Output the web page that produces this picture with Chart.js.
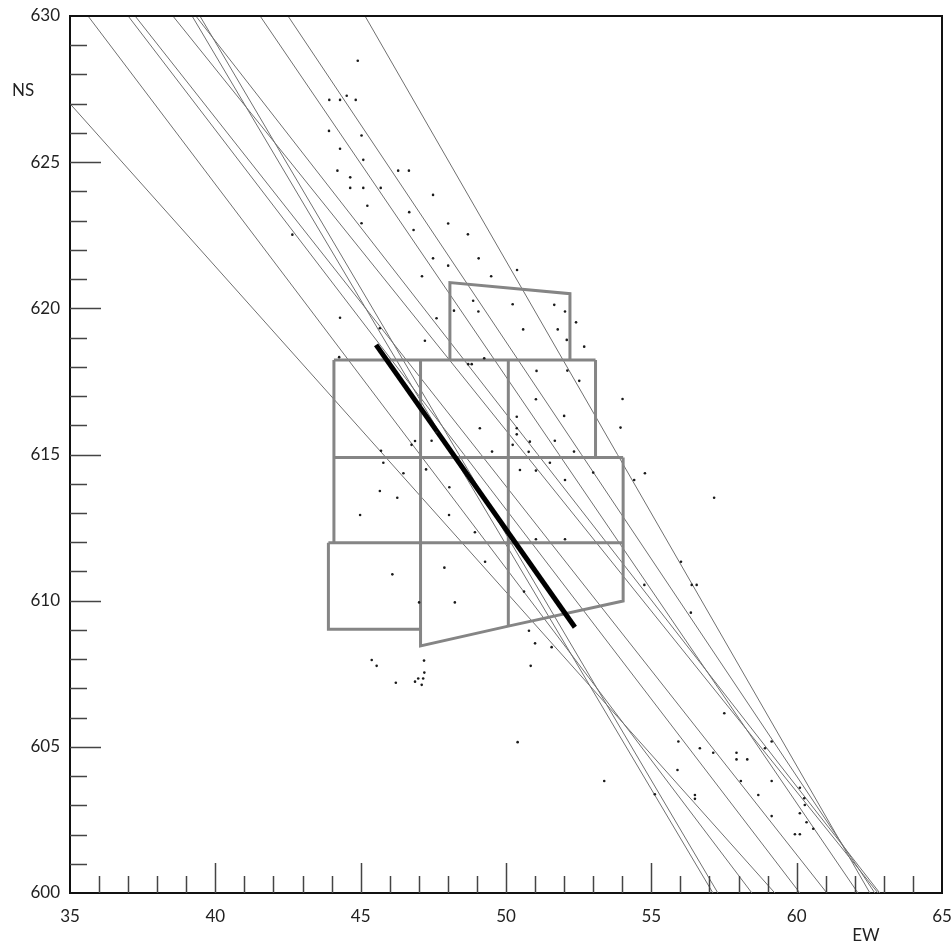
<!DOCTYPE html>
<html>
<head>
<meta charset="utf-8">
<script src="https://cdn.jsdelivr.net/npm/chart.js@4.4.1/dist/chart.umd.min.js"></script>
<style>
  html, body { margin: 0; background: #fff; }
</style>
</head>
<body>
<canvas id="chart" width="952" height="947"></canvas>
<script>
// axis ticks
const xMajorTicks = [35, 40, 45, 50, 55, 60, 65];
const yMajorTicks = [600, 605, 610, 615, 620, 625, 630];
const xMinorTicks = [36, 37, 38, 39, 40, 41, 42, 43, 44, 45, 46, 47, 48, 49, 50, 51, 52, 53, 54, 55, 56, 57, 58, 59, 60, 61, 62, 63, 64];
const yMinorTicks = [601, 602, 603, 604, 605, 606, 607, 608, 609, 610, 611, 612, 613, 614, 615, 616, 617, 618, 619, 620, 621, 622, 623, 624, 625, 626, 627, 628, 629];

// thin fan lines: start (x, y) -> end (x, 600)
const fanStartX = [35.00, 35.62, 37.00, 37.24, 38.54, 39.20, 39.33, 39.47, 41.54, 42.50, 45.15];
const fanStartY = [627.0, 630, 630, 630, 630, 630, 630, 630, 630, 630, 630];
const fanEndX   = [59.25, 58.46, 60.11, 61.04, 62.80, 57.12, 62.86, 57.29, 62.11, 62.69, 62.52];
const fanEndY   = 600;

// grey grid outline (polylines)
const gridPaths = [
  [[44.08, 618.23], [53.08, 618.23]],
  [[44.08, 614.90], [54.03, 614.90]],
  [[43.89, 611.98], [54.03, 611.98]],
  [[44.08, 618.23], [44.08, 611.98]],
  [[43.89, 611.98], [43.89, 609.02], [47.06, 609.02]],
  [[47.06, 618.23], [47.06, 608.45], [50.08, 609.13], [54.03, 609.99], [54.03, 614.90]],
  [[50.08, 618.23], [50.08, 609.13]],
  [[53.08, 618.23], [53.08, 614.90]],
  [[48.07, 618.23], [48.07, 620.88], [52.20, 620.50], [52.20, 618.23]]
];

// thick black segment
const blackLine = [[45.53, 618.75], [52.37, 609.09]];

// scattered points
const dots = [
  [44.90,628.47],[43.92,627.13],[44.29,627.13],[44.52,627.27],[44.83,627.13],[43.91,626.07],
  [45.03,625.91],[44.29,625.46],[45.09,625.08],[44.20,624.71],[46.29,624.71],[46.66,624.71],
  [44.64,624.48],[44.64,624.12],[45.09,624.12],[45.69,624.12],[47.49,623.88],[45.23,623.51],
  [46.67,623.29],[45.03,622.91],[48.01,622.90],[46.82,622.68],[48.69,622.53],[42.65,622.52],
  [47.49,621.71],[49.06,621.71],[48.01,621.46],[50.38,621.31],[47.11,621.10],[49.49,621.10],
  [48.87,620.26],[50.23,620.14],[51.66,620.12],[48.21,619.92],[49.05,619.89],[52.03,619.89],
  [47.61,619.66],[44.29,619.68],[52.41,619.52],[50.59,619.28],[51.78,619.28],[45.66,619.32],
  [52.09,618.92],[47.21,618.89],[52.69,618.69],[49.25,618.29],[48.70,618.09],[48.82,618.09],
  [44.26,618.33],[51.05,617.86],[52.11,617.87],[52.52,617.52],[54.01,616.90],[51.03,616.89],
  [50.37,616.29],[52.00,616.32],[50.37,615.90],[53.94,615.92],[50.37,615.69],[49.10,615.90],
  [47.61,615.76],[47.44,615.47],[46.87,615.46],[50.82,615.44],[51.68,615.47],[50.23,615.33],
  [49.52,615.10],[50.78,615.09],[52.34,615.10],[45.70,615.13],[46.75,615.33],[50.48,614.47],
  [51.03,614.45],[51.51,614.72],[53.00,614.38],[54.41,614.13],[52.03,614.13],[46.47,614.36],
  [45.78,614.72],[47.25,614.49],[48.05,613.88],[45.66,613.75],[46.26,613.52],[44.98,612.93],
  [48.04,612.93],[48.93,612.34],[51.03,612.10],[52.03,612.10],[49.28,611.33],[47.88,611.13],
  [46.09,610.90],[50.62,610.31],[48.24,609.94],[47.01,609.94],[50.79,608.97],[51.00,608.54],
  [51.57,608.41],[45.38,607.97],[45.55,607.77],[47.18,607.95],[47.19,607.54],[46.98,607.34],
  [47.15,607.34],[46.87,607.23],[46.21,607.19],[47.10,607.12],[50.85,607.77],
  [54.78,614.36],[57.16,613.52],[56.36,609.59],[56.02,611.33],[54.76,610.54],[56.39,610.54],
  [56.56,610.54],[50.40,605.16],[53.38,603.83],[57.51,606.15],[55.93,605.18],[56.67,604.95],
  [57.13,604.80],[57.93,604.80],[58.30,604.57],[57.93,604.57],[59.14,605.18],[58.91,604.95],
  [55.90,604.21],[58.08,603.83],[59.14,603.83],[58.68,603.35],[56.50,603.35],[55.12,603.38],
  [56.50,603.22],[59.14,602.63],[60.11,603.60],[60.26,603.24],[60.11,602.73],[60.34,602.42],
  [60.57,602.20],[59.94,602.01],[60.11,602.01],[60.28,603.01]
];

const toPts = arr => arr.map(p => ({ x: p[0], y: p[1] }));
const datasets = [];

datasets.push({
  type: 'scatter', data: toPts(dots), order: 0,
  pointRadius: 1.3, pointBorderWidth: 0, pointBackgroundColor: '#1a1a1a'
});
datasets.push({
  type: 'line', data: toPts(blackLine), order: 1,
  borderColor: '#000', borderWidth: 5, pointRadius: 0, borderCapStyle: 'butt'
});
gridPaths.forEach(path => datasets.push({
  type: 'line', data: toPts(path), order: 2,
  borderColor: '#858585', borderWidth: 3, pointRadius: 0, borderJoinStyle: 'miter'
}));
fanStartX.forEach((x0, i) => datasets.push({
  type: 'line', order: 3,
  data: [{ x: x0, y: fanStartY[i] }, { x: fanEndX[i], y: fanEndY }],
  borderColor: '#707070', borderWidth: 1, pointRadius: 0
}));

// inward ticks, top/right frame and axis names
const frameAndTicks = {
  id: 'frameAndTicks',
  afterDraw(chart) {
    const { ctx, chartArea: a, scales: { x, y } } = chart;
    ctx.save();
    ctx.strokeStyle = '#444';
    ctx.lineWidth = 1.5;
    ctx.beginPath();
    xMinorTicks.forEach(v => {
      const px = Math.round(x.getPixelForValue(v)) + 0.5;
      ctx.moveTo(px, a.bottom);
      ctx.lineTo(px, a.bottom - (xMajorTicks.includes(v) ? 30 : 17));
    });
    yMinorTicks.forEach(v => {
      const py = Math.round(y.getPixelForValue(v)) + 0.5;
      ctx.moveTo(a.left, py);
      ctx.lineTo(a.left + (yMajorTicks.includes(v) ? 31 : 17), py);
    });
    ctx.stroke();

    ctx.strokeStyle = '#111';
    ctx.lineWidth = 2;
    ctx.beginPath();
    ctx.moveTo(a.left, a.top);
    ctx.lineTo(a.right, a.top);
    ctx.lineTo(a.right, a.bottom);
    ctx.stroke();

    ctx.fillStyle = '#222';
    ctx.font = '17px Lato';
    ctx.textBaseline = 'middle';
    ctx.textAlign = 'left';
    ctx.fillText('NS', 12, 91);
    ctx.textAlign = 'center';
    ctx.fillText('EW', 866, 936);
    ctx.restore();
  }
};

new Chart(document.getElementById('chart'), {
  type: 'scatter',
  data: { datasets },
  options: {
    responsive: false,
    animation: false,
    devicePixelRatio: 1,
    layout: { padding: { top: 16, right: 10, left: 0, bottom: 0 } },
    plugins: { legend: { display: false }, tooltip: { enabled: false } },
    scales: {
      x: {
        type: 'linear', min: 35, max: 65,
        afterFit(s) { s.height = 54; s.paddingLeft = 0; s.paddingRight = 0; },
        grid: { display: false, drawTicks: false },
        border: { display: true, color: '#111', width: 2 },
        afterBuildTicks(s) { s.ticks = xMajorTicks.map(v => ({ value: v })); },
        ticks: { color: '#222', font: { family: 'Lato', size: 17 }, padding: 13, maxRotation: 0 }
      },
      y: {
        type: 'linear', min: 600, max: 630,
        afterFit(s) { s.width = 70; s.paddingTop = 0; s.paddingBottom = 0; },
        grid: { display: false, drawTicks: false },
        border: { display: true, color: '#111', width: 2 },
        afterBuildTicks(s) { s.ticks = yMajorTicks.map(v => ({ value: v })); },
        ticks: { color: '#222', font: { family: 'Lato', size: 17 }, padding: 10 }
      }
    }
  },
  plugins: [frameAndTicks]
});
</script>
</body>
</html>
